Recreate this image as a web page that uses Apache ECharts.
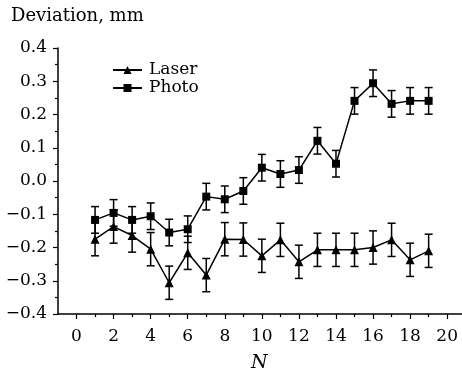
<!DOCTYPE html>
<html>
<head>
<meta charset="utf-8">
<script src="https://cdn.jsdelivr.net/npm/echarts@6/dist/echarts.min.js"></script>
<style>html,body{margin:0;padding:0;background:#fff}#c{width:462px;height:376px}</style>
</head>
<body>
<div id="c"></div>
<script>
const N = [1,2,3,4,5,6,7,8,9,10,11,12,13,14,15,16,17,18,19];
const laser = [-0.175,-0.137,-0.164,-0.205,-0.306,-0.216,-0.283,-0.175,-0.176,-0.225,-0.177,-0.243,-0.207,-0.207,-0.207,-0.200,-0.177,-0.237,-0.210];
const laserErr = [0.05,0.05,0.05,0.05,0.05,0.05,0.05,0.05,0.05,0.05,0.05,0.05,0.05,0.05,0.05,0.05,0.05,0.05,0.05];
const photo = [-0.117,-0.096,-0.117,-0.106,-0.155,-0.145,-0.047,-0.055,-0.030,0.040,0.021,0.033,0.121,0.052,0.241,0.294,0.232,0.241,0.241];
const photoErr = [0.04,0.04,0.04,0.04,0.04,0.04,0.04,0.04,0.04,0.04,0.04,0.04,0.04,0.04,0.04,0.04,0.04,0.04,0.04];
const xMajor = [0,2,4,6,8,10,12,14,16,18,20];
const xMinor = [1,3,5,7,9,11,13,15,17,19];

const FONT = "'DejaVu Serif','Liberation Serif',serif";
const chart = echarts.init(document.getElementById('c'), null, {renderer:'canvas'});

function errSeries(vals, errs){
  return {
    type:'custom', xAxisIndex:0, yAxisIndex:0, silent:true, z:1,
    data: N.map((n,i)=>[n, vals[i], errs[i]]),
    renderItem(params, api){
      const x=api.value(0), y=api.value(1), e=api.value(2);
      const t=api.coord([x,y+e]), b=api.coord([x,y-e]);
      const w=4, st={stroke:'#000', lineWidth:1.5};
      return {type:'group', children:[
        {type:'line', shape:{x1:t[0],y1:t[1],x2:b[0],y2:b[1]}, style:st},
        {type:'line', shape:{x1:t[0]-w,y1:t[1],x2:t[0]+w,y2:t[1]}, style:st},
        {type:'line', shape:{x1:b[0]-w,y1:b[1],x2:b[0]+w,y2:b[1]}, style:st}
      ]};
    }
  };
}

const gridBox = {left:58, top:48, right:0, bottom:62};
chart.setOption({
  backgroundColor:'#fff',
  animation:false,
  textStyle:{fontFamily:FONT},
  grid:[Object.assign({}, gridBox), Object.assign({}, gridBox)],
  legend:{
    orient:'vertical', left:107, top:56, itemGap:0, itemWidth:29, itemHeight:10,
    data:['Laser','Photo'],
    textStyle:{fontFamily:FONT, fontSize:17, lineHeight:18, color:'#000', padding:[0,0,0,2]}
  },
  xAxis:[{
    type:'value', gridIndex:0, min:-1, max:20.8,
    axisLine:{show:true, onZero:false, lineStyle:{color:'#000', width:1.5}},
    axisTick:{show:true, customValues:xMajor, length:5, lineStyle:{color:'#000', width:1.2}},
    axisLabel:{show:true, customValues:xMajor, margin:14, fontFamily:FONT, fontSize:17, color:'#000'},
    splitLine:{show:false}
  },{
    type:'value', gridIndex:1, min:-1, max:20.8,
    axisLine:{show:false, onZero:false},
    axisTick:{show:true, customValues:xMinor, length:3, lineStyle:{color:'#000', width:1.2}},
    axisLabel:{show:false},
    splitLine:{show:false}
  }],
  yAxis:[{
    type:'value', gridIndex:0, min:-0.4, max:0.4, interval:0.1,
    axisLine:{show:true, onZero:false, lineStyle:{color:'#000', width:1.5}},
    axisTick:{show:true, length:5, lineStyle:{color:'#000', width:1.2}},
    minorTick:{show:true, splitNumber:2, length:3, lineStyle:{color:'#000', width:1.2}},
    axisLabel:{margin:11, fontFamily:FONT, fontSize:17, color:'#000',
      formatter:v=>{const s=Math.abs(v).toFixed(1); return (v< -1e-9?'\u2212':'')+s;}},
    splitLine:{show:false}
  },{
    type:'value', gridIndex:1, min:-0.4, max:0.4, show:false
  }],
  graphic:[
    {type:'text', left:11, top:7, style:{text:'Deviation, mm', fontFamily:FONT, fontSize:18, fill:'#000'}},
    {type:'text', left:251, top:354, style:{text:'N', fontFamily:FONT, fontStyle:'italic', fontSize:19, fill:'#000'}}
  ],
  series:[
    errSeries(laser, laserErr),
    errSeries(photo, photoErr),
    {name:'Laser', type:'line', data:N.map((n,i)=>[n,laser[i]]), symbol:'triangle', symbolSize:9,
     itemStyle:{color:'#000'}, lineStyle:{color:'#000', width:1.5}, z:3},
    {name:'Photo', type:'line', data:N.map((n,i)=>[n,photo[i]]), symbol:'rect', symbolSize:8,
     itemStyle:{color:'#000'}, lineStyle:{color:'#000', width:1.5}, z:3}
  ]
});
</script>
</body>
</html>
